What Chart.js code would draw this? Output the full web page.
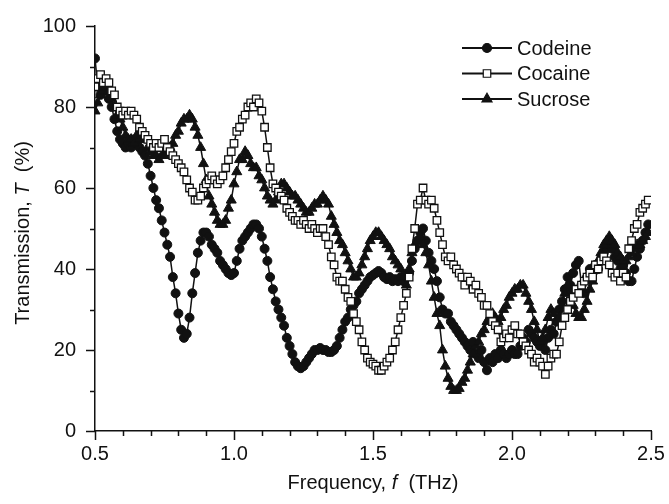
<!DOCTYPE html>
<html>
<head>
<meta charset="utf-8">
<script src="https://cdn.jsdelivr.net/npm/chart.js@4.4.1/dist/chart.umd.min.js"></script>
<style>
  body { margin: 0; background: #fff; }
  #wrap { width: 669px; height: 504px; }
</style>
</head>
<body>
<div id="wrap"><canvas id="myChart" width="669" height="504"></canvas></div>
<script>
// frequency (THz), one reading every 0.01 THz
var freq = [
  0.50, 0.51, 0.52, 0.53, 0.54, 0.55, 0.56, 0.57, 0.58, 0.59,
  0.60, 0.61, 0.62, 0.63, 0.64, 0.65, 0.66, 0.67, 0.68, 0.69,
  0.70, 0.71, 0.72, 0.73, 0.74, 0.75, 0.76, 0.77, 0.78, 0.79,
  0.80, 0.81, 0.82, 0.83, 0.84, 0.85, 0.86, 0.87, 0.88, 0.89,
  0.90, 0.91, 0.92, 0.93, 0.94, 0.95, 0.96, 0.97, 0.98, 0.99,
  1.00, 1.01, 1.02, 1.03, 1.04, 1.05, 1.06, 1.07, 1.08, 1.09,
  1.10, 1.11, 1.12, 1.13, 1.14, 1.15, 1.16, 1.17, 1.18, 1.19,
  1.20, 1.21, 1.22, 1.23, 1.24, 1.25, 1.26, 1.27, 1.28, 1.29,
  1.30, 1.31, 1.32, 1.33, 1.34, 1.35, 1.36, 1.37, 1.38, 1.39,
  1.40, 1.41, 1.42, 1.43, 1.44, 1.45, 1.46, 1.47, 1.48, 1.49,
  1.50, 1.51, 1.52, 1.53, 1.54, 1.55, 1.56, 1.57, 1.58, 1.59,
  1.60, 1.61, 1.62, 1.63, 1.64, 1.65, 1.66, 1.67, 1.68, 1.69,
  1.70, 1.71, 1.72, 1.73, 1.74, 1.75, 1.76, 1.77, 1.78, 1.79,
  1.80, 1.81, 1.82, 1.83, 1.84, 1.85, 1.86, 1.87, 1.88, 1.89,
  1.90, 1.91, 1.92, 1.93, 1.94, 1.95, 1.96, 1.97, 1.98, 1.99,
  2.00, 2.01, 2.02, 2.03, 2.04, 2.05, 2.06, 2.07, 2.08, 2.09,
  2.10, 2.11, 2.12, 2.13, 2.14, 2.15, 2.16, 2.17, 2.18, 2.19,
  2.20, 2.21, 2.22, 2.23, 2.24, 2.25, 2.26, 2.27, 2.28, 2.29,
  2.30, 2.31, 2.32, 2.33, 2.34, 2.35, 2.36, 2.37, 2.38, 2.39,
  2.40, 2.41, 2.42, 2.43, 2.44, 2.45, 2.46, 2.47, 2.48, 2.49
];

// transmission T (%)
var codeine = [
  92, 85, 83, 85, 84, 82, 80, 77, 74, 72,
  71, 70, 71, 70, 72, 71, 70, 69, 68, 66,
  63, 60, 57, 55, 52, 49, 46, 43, 38, 34,
  29, 25, 23, 24, 28, 34, 39, 44, 47, 49,
  49, 48, 46, 45, 44, 42, 41, 40, 39, 38.5,
  39, 42, 45, 47, 48, 49, 50, 51, 51, 50,
  48, 45, 42, 38, 35, 32, 30, 28, 26, 23,
  21, 19, 17, 16, 15.5, 16, 17, 18, 19, 20,
  20, 20.5, 20, 20, 19.5, 19.5, 20, 21, 23, 25,
  27, 28, 30, 31, 32, 34, 35, 36, 37, 38,
  38.5, 39, 39.5, 39, 38, 37.5, 38, 37, 37.5, 37,
  38, 37, 38, 39, 42, 45, 47, 49, 50, 47,
  44, 42, 40, 37, 33, 30, 29, 29, 27, 26,
  25, 24, 23, 22, 21, 20, 22, 19, 18, 20,
  17, 15, 18, 17, 19, 18, 20, 19, 18, 19,
  20, 19, 19, 21, 23, 22, 25, 24, 23, 22,
  21, 22, 20, 23, 25, 24, 27, 30, 32, 35,
  38, 36, 39, 41, 42, 36, 34, 38, 40, 39,
  41, 40, 42, 44, 45, 46, 45, 43, 42, 40,
  41, 39, 37, 37, 40, 43, 45, 47, 49, 51
];
var cocaine = [
  85, 87, 88, 86, 87, 86, 84, 83, 80, 79,
  78, 79, 78, 79, 78, 77, 75, 74, 73, 72,
  71, 70, 71, 70, 71, 72, 70, 69, 68, 67,
  66, 65, 64, 62, 60, 59, 57, 57, 58, 60,
  61, 62, 63, 62, 61, 62, 63, 65, 67, 69,
  71, 74, 75, 77, 78, 80, 81, 80, 82, 81,
  79, 75, 70, 65, 61, 60, 59, 58, 57, 55,
  54, 53, 52, 52, 51, 52, 51, 50, 51, 50,
  49, 50, 50, 48, 46, 43, 41, 38, 37, 37,
  35, 33, 32, 29, 27, 25, 22, 20, 18, 17,
  16.5, 16, 15, 15, 16, 17, 18, 20, 22, 25,
  28, 31, 34, 38, 45, 50, 56, 57, 60, 57,
  56, 57, 55, 52, 49, 46, 43, 42, 43, 41,
  40, 39, 38, 36, 38, 37, 35, 36, 34, 33,
  31, 31, 29, 27, 26, 25, 22, 23, 24, 23,
  25, 26, 24, 24, 22, 21, 20, 19, 17, 18,
  17, 16, 14, 16, 18, 19, 19, 22, 26, 28,
  30, 32, 33, 35, 34, 36, 37, 38, 39, 38,
  41, 40, 42, 43, 42, 41, 39, 38, 39, 37,
  39, 38, 45, 47, 50, 51, 54, 55, 56, 57
];
var sucrose = [
  79, 81, 83, 84, 85, 84, 82, 80, 78, 77,
  75, 73, 72, 72, 71, 73, 72, 73, 72, 70,
  69, 68, 68, 67, 68, 68, 69, 70, 71, 73,
  74, 76, 77, 77, 78, 77, 75, 73, 70, 66,
  62, 58, 56, 54, 52, 51, 51, 52, 55, 57,
  61, 64, 67, 67, 69, 68, 66, 65, 65, 63,
  62, 60, 58, 57, 56, 57, 59, 61, 61, 60,
  59, 58, 58, 57, 56, 55, 54, 54, 55, 56,
  56, 57, 58, 57, 56, 53, 51, 49, 47, 46,
  44, 42, 40, 38, 38, 39, 41, 43, 45, 47,
  48, 49, 49, 48, 47, 46, 45, 43, 42, 41,
  40, 38, 36, 40, 44, 46, 47, 48, 46, 44,
  41, 37, 33, 29, 26, 20, 16, 13, 11, 10,
  10, 10.5, 12, 13, 15, 17, 19, 21, 22, 24,
  25, 27, 28, 29, 28, 27, 28, 30, 31, 33,
  34, 35, 35, 36, 36, 34, 32, 30, 27, 25,
  22, 23, 25, 28, 30, 29, 27, 28, 31, 34,
  36, 34, 31, 29, 28, 28, 30, 32, 35, 37,
  40, 42, 44, 46, 47, 48, 47, 46, 44, 43,
  42, 42, 43, 44, 45, 46, 46, 47, 48, 49
];

var seriesNames = ['Codeine', 'Cocaine', 'Sucrose'];
var xTickLabels = ['0.5', '1.0', '1.5', '2.0', '2.5'];
var yTickLabels = ['0', '20', '40', '60', '80', '100'];

var FONT = '"Liberation Sans", Arial, Helvetica, sans-serif';
var INK = '#111';

function toPoints(ys) {
    return freq.map(function(f, i) { return { x: f, y: ys[i] }; });
}

// Minor/major tick marks drawn outward from the two axes
var tickMarks = {
    id: 'tickMarks',
    afterDraw: function(chart) {
        var ctx = chart.ctx, xs = chart.scales.x, ys = chart.scales.y;
        var area = chart.chartArea;
        ctx.save();
        ctx.strokeStyle = INK;
        ctx.lineWidth = 1.5;
        ctx.beginPath();
        for (var i = 0; i <= 20; i++) {
            var v = 0.5 + i * 0.1;
            var px = Math.round(xs.getPixelForValue(v)) + 0.5;
            var len = (i % 5 === 0) ? 9 : 5;
            ctx.moveTo(px, area.bottom);
            ctx.lineTo(px, area.bottom + len);
        }
        for (var j = 0; j <= 10; j++) {
            var py = Math.round(ys.getPixelForValue(j * 10)) + 0.5;
            var l2 = (j % 2 === 0) ? 9 : 5;
            ctx.moveTo(area.left, py);
            ctx.lineTo(area.left - l2, py);
        }
        ctx.stroke();
        ctx.restore();
    }
};

// Axis titles with italic symbols
function drawMixed(ctx, parts, cx, cy) {
    var total = 0;
    parts.forEach(function(p) {
        ctx.font = (p.italic ? 'italic ' : '') + '20px ' + FONT;
        p.w = ctx.measureText(p.t).width;
        total += p.w;
    });
    var x = cx - total / 2;
    parts.forEach(function(p) {
        ctx.font = (p.italic ? 'italic ' : '') + '20px ' + FONT;
        ctx.fillText(p.t, x, cy);
        x += p.w;
    });
}

var axisTitles = {
    id: 'axisTitles',
    afterDraw: function(chart) {
        var ctx = chart.ctx, area = chart.chartArea;
        ctx.save();
        ctx.fillStyle = INK;
        ctx.textBaseline = 'middle';
        ctx.textAlign = 'left';
        drawMixed(ctx, [{ t: 'Frequency, ' }, { t: 'f', italic: true }, { t: '  (THz)' }],
            (area.left + area.right) / 2, 483);
        ctx.translate(23, 233);
        ctx.rotate(-Math.PI / 2);
        drawMixed(ctx, [{ t: 'Transmission, ' }, { t: 'T', italic: true }, { t: '  (%)' }], 0, 0);
        ctx.restore();
    }
};

function drawMarker(ctx, style, x, y, r, fill) {
    ctx.beginPath();
    if (style === 'circle') {
        ctx.arc(x, y, r, 0, Math.PI * 2);
    } else if (style === 'rect') {
        var s = r * Math.SQRT1_2;
        ctx.rect(x - s, y - s, 2 * s, 2 * s);
    } else {
        ctx.moveTo(x, y - r);
        ctx.lineTo(x + r * 0.866, y + r * 0.5);
        ctx.lineTo(x - r * 0.866, y + r * 0.5);
        ctx.closePath();
    }
    ctx.fillStyle = fill;
    ctx.fill();
    ctx.stroke();
}

var innerLegend = {
    id: 'innerLegend',
    afterDraw: function(chart) {
        var ctx = chart.ctx;
        ctx.save();
        chart.data.datasets.forEach(function(ds, i) {
            var y = 48 + i * 25.5;
            ctx.strokeStyle = INK;
            ctx.lineWidth = 1.8;
            ctx.beginPath();
            ctx.moveTo(462, y);
            ctx.lineTo(512, y);
            ctx.stroke();
            ctx.lineWidth = 1.2;
            drawMarker(ctx, ds.pointStyle, 487, y, ds.pointRadius, ds.pointBackgroundColor);
            ctx.fillStyle = INK;
            ctx.font = '20px ' + FONT;
            ctx.textBaseline = 'middle';
            ctx.textAlign = 'left';
            ctx.fillText(ds.label, 517, y + 1);
        });
        ctx.restore();
    }
};

// hidden tick marks only push the labels away from the axis lines
var hiddenGrid = function(len) {
    return { display: true, drawOnChartArea: false, drawTicks: true, tickLength: len, tickColor: 'rgba(0,0,0,0)' };
};

var ctx = document.getElementById('myChart');

var myChart = new Chart(ctx, {
    type: 'scatter',
    data: {
        datasets: [{
            label: seriesNames[0],
            data: toPoints(codeine),
            showLine: true,
            borderColor: INK,
            borderWidth: 1.5,
            pointStyle: 'circle',
            pointRadius: 4.5,
            pointBackgroundColor: INK,
            pointBorderColor: INK,
            pointBorderWidth: 1,
            order: 3
        }, {
            label: seriesNames[1],
            data: toPoints(cocaine),
            showLine: true,
            borderColor: INK,
            borderWidth: 1.5,
            pointStyle: 'rect',
            pointRadius: 5.3,
            pointBackgroundColor: '#fff',
            pointBorderColor: INK,
            pointBorderWidth: 1.3,
            order: 1
        }, {
            label: seriesNames[2],
            data: toPoints(sucrose),
            showLine: true,
            borderColor: INK,
            borderWidth: 1.5,
            pointStyle: 'triangle',
            pointRadius: 5.8,
            pointBackgroundColor: INK,
            pointBorderColor: INK,
            pointBorderWidth: 1,
            order: 2
        }]
    },
    options: {
        responsive: false,
        animation: false,
        devicePixelRatio: 1,
        layout: { padding: { left: 0, right: 18, top: 26, bottom: 0 } },
        plugins: {
            legend: { display: false },
            tooltip: { enabled: false }
        },
        scales: {
            x: {
                type: 'linear',
                min: 0.5,
                max: 2.5,
                afterFit: function(scale) { scale.height = 73; },
                afterBuildTicks: function(scale) {
                    scale.ticks = xTickLabels.map(function(t) { return { value: parseFloat(t) }; });
                },
                ticks: {
                    padding: 3,
                    color: INK,
                    font: { family: FONT, size: 20 },
                    maxRotation: 0,
                    autoSkip: false,
                    callback: function(v, i) { return xTickLabels[i]; }
                },
                grid: hiddenGrid(8),
                border: { display: true, color: INK, width: 1.5 }
            },
            y: {
                min: 0,
                max: 100,
                afterFit: function(scale) { scale.width = 95; },
                afterBuildTicks: function(scale) {
                    scale.ticks = yTickLabels.map(function(t) { return { value: parseFloat(t) }; });
                },
                ticks: {
                    padding: 4,
                    color: INK,
                    font: { family: FONT, size: 20 },
                    callback: function(v, i) { return yTickLabels[i]; }
                },
                grid: hiddenGrid(15),
                border: { display: true, color: INK, width: 1.5 }
            }
        }
    },
    plugins: [tickMarks, axisTitles, innerLegend]
});
</script>
</body>
</html>
